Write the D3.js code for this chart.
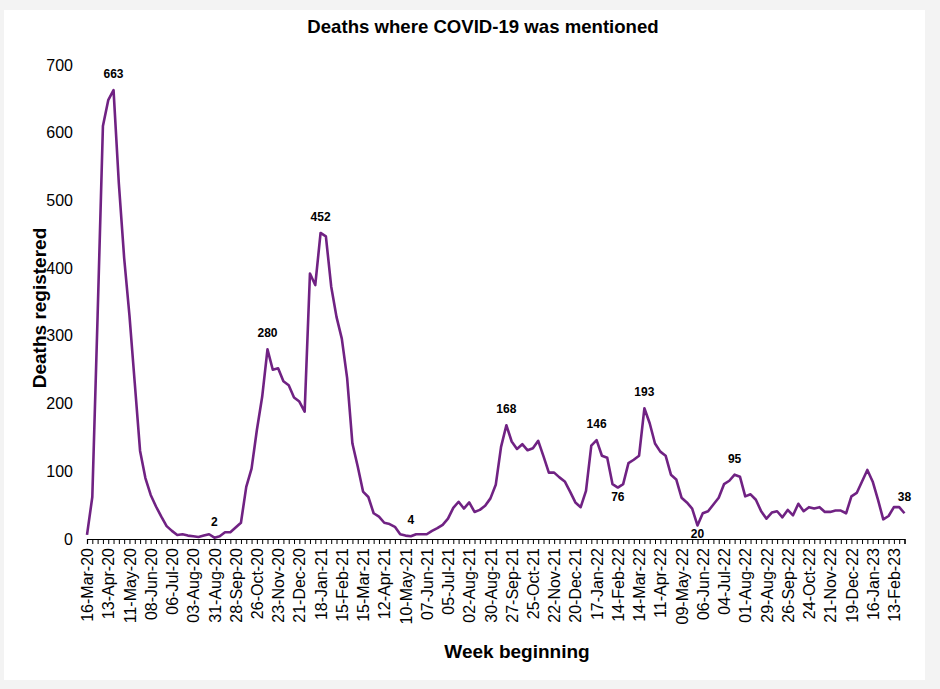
<!DOCTYPE html>
<html>
<head>
<meta charset="utf-8">
<script src="https://cdn.jsdelivr.net/npm/d3@7"></script>
<style>
  body { margin: 0; background: #f3f3f3; }
  svg { display: block; font-family: "Liberation Sans", Arial, sans-serif; }
</style>
</head>
<body>
<svg id="chart" width="940" height="689"></svg>
<script>
// weekly deaths, first week beginning 16-Mar-20
const deaths = [
    6, 62, 330, 610, 648, 663, 525, 415, 330, 230,
    130, 90, 65, 48, 33, 19, 12, 6, 7, 5,
    4, 3, 5, 7, 2, 4, 10, 10, 17, 24,
    77, 104, 161, 210, 280, 250, 252, 233, 227, 209,
    203, 188, 392, 375, 452, 447, 373, 328, 296, 238,
    141, 107, 70, 62, 38, 33, 24, 22, 18, 7,
    5, 4, 7, 7, 7, 12, 16, 21, 30, 46,
    55, 45, 54, 40, 43, 49, 60, 80, 136, 168,
    144, 133, 140, 131, 134, 145, 122, 98, 98, 91,
    85, 70, 54, 47, 71, 138, 146, 123, 120, 81,
    76, 81, 112, 117, 123, 193, 171, 141, 129, 123,
    95, 88, 61, 54, 45, 20, 38, 41, 51, 61,
    81, 86, 95, 92, 63, 66, 58, 41, 30, 39,
    41, 32, 43, 35, 52, 41, 47, 45, 47, 40,
    40, 42, 42, 38, 63, 68, 85, 102, 85, 58,
    29, 34, 47, 47, 38
];

// one label every 4 weeks
const tickLabels = [
    "16-Mar-20", "13-Apr-20", "11-May-20", "08-Jun-20", "06-Jul-20", "03-Aug-20",
    "31-Aug-20", "28-Sep-20", "26-Oct-20", "23-Nov-20", "21-Dec-20", "18-Jan-21",
    "15-Feb-21", "15-Mar-21", "12-Apr-21", "10-May-21", "07-Jun-21", "05-Jul-21",
    "02-Aug-21", "30-Aug-21", "27-Sep-21", "25-Oct-21", "22-Nov-21", "20-Dec-21",
    "17-Jan-22", "14-Feb-22", "14-Mar-22", "11-Apr-22", "09-May-22", "06-Jun-22",
    "04-Jul-22", "01-Aug-22", "29-Aug-22", "26-Sep-22", "24-Oct-22", "21-Nov-22",
    "19-Dec-22", "16-Jan-23", "13-Feb-23"
];

const yTicks = [0, 100, 200, 300, 400, 500, 600, 700];

// weeks carrying a value label, and the ones whose label sits under the line
const labelWeeks = [5, 24, 34, 44, 61, 79, 96, 100, 105, 115, 122, 154];
const labelBelow = [100, 115];

const svg = d3.select("#chart");
const W = 940, H = 689;

svg.append("rect").attr("width", W).attr("height", H).attr("fill", "#f3f3f3");
svg.append("rect")
    .attr("x", 4).attr("y", 10)
    .attr("width", 921).attr("height", 670)
    .attr("fill", "#fff");

const x = d3.scaleLinear()
    .domain([0, deaths.length - 1])
    .range([87, 904.5]);

const y = d3.scaleLinear()
    .domain([0, 700])
    .range([539, 65]);

const purple = "#702283";

// y axis: labels only
const yAxis = svg.append("g")
    .attr("transform", "translate(87,0)")
    .call(d3.axisLeft(y).tickValues(yTicks).tickSize(0).tickPadding(14));
yAxis.select(".domain").remove();
yAxis.selectAll("text")
    .style("font-size", "16px")
    .style("font-family", "'Liberation Sans', Arial, sans-serif")
    .attr("fill", "#000");

// x axis: a tick every week, a label every 4 weeks
const xAxis = svg.append("g")
    .attr("transform", `translate(0,${y(0)})`)
    .call(d3.axisBottom(x)
        .tickValues(d3.range(deaths.length))
        .tickSize(5)
        .tickFormat(i => i % 4 === 0 ? tickLabels[i / 4] : ""));
xAxis.select(".domain").attr("stroke", "#000").attr("stroke-width", 1.2);
xAxis.selectAll(".tick line").attr("stroke", "#000").attr("stroke-width", 1);
xAxis.selectAll("text")
    .style("font-size", "16px")
    .style("font-family", "'Liberation Sans', Arial, sans-serif")
    .attr("fill", "#000")
    .attr("text-anchor", "end")
    .attr("transform", "rotate(-90)")
    .attr("x", -9)
    .attr("y", 0)
    .attr("dy", "0.35em");

// the line
const line = d3.line()
    .x((d, i) => x(i))
    .y(d => y(d));

svg.append("path")
    .datum(deaths)
    .attr("fill", "none")
    .attr("stroke", purple)
    .attr("stroke-width", 2.6)
    .attr("stroke-linejoin", "round")
    .attr("d", line);

// value labels
svg.append("g")
    .selectAll("text")
    .data(labelWeeks)
    .enter()
    .append("text")
    .attr("x", i => x(i))
    .attr("y", i => labelBelow.includes(i) ? y(deaths[i]) + 13 : y(deaths[i]) - 12)
    .attr("text-anchor", "middle")
    .style("font-size", "12px")
    .style("font-weight", "bold")
    .text(i => deaths[i]);

// titles
svg.append("text")
    .attr("x", 483)
    .attr("y", 33)
    .attr("text-anchor", "middle")
    .style("font-size", "18.6px")
    .style("font-weight", "bold")
    .text("Deaths where COVID-19 was mentioned");

svg.append("text")
    .attr("x", 517)
    .attr("y", 658)
    .attr("text-anchor", "middle")
    .style("font-size", "19px")
    .style("font-weight", "bold")
    .text("Week beginning");

svg.append("text")
    .attr("transform", "translate(46,308) rotate(-90)")
    .attr("text-anchor", "middle")
    .style("font-size", "19px")
    .style("font-weight", "bold")
    .text("Deaths registered");
</script>
</body>
</html>
